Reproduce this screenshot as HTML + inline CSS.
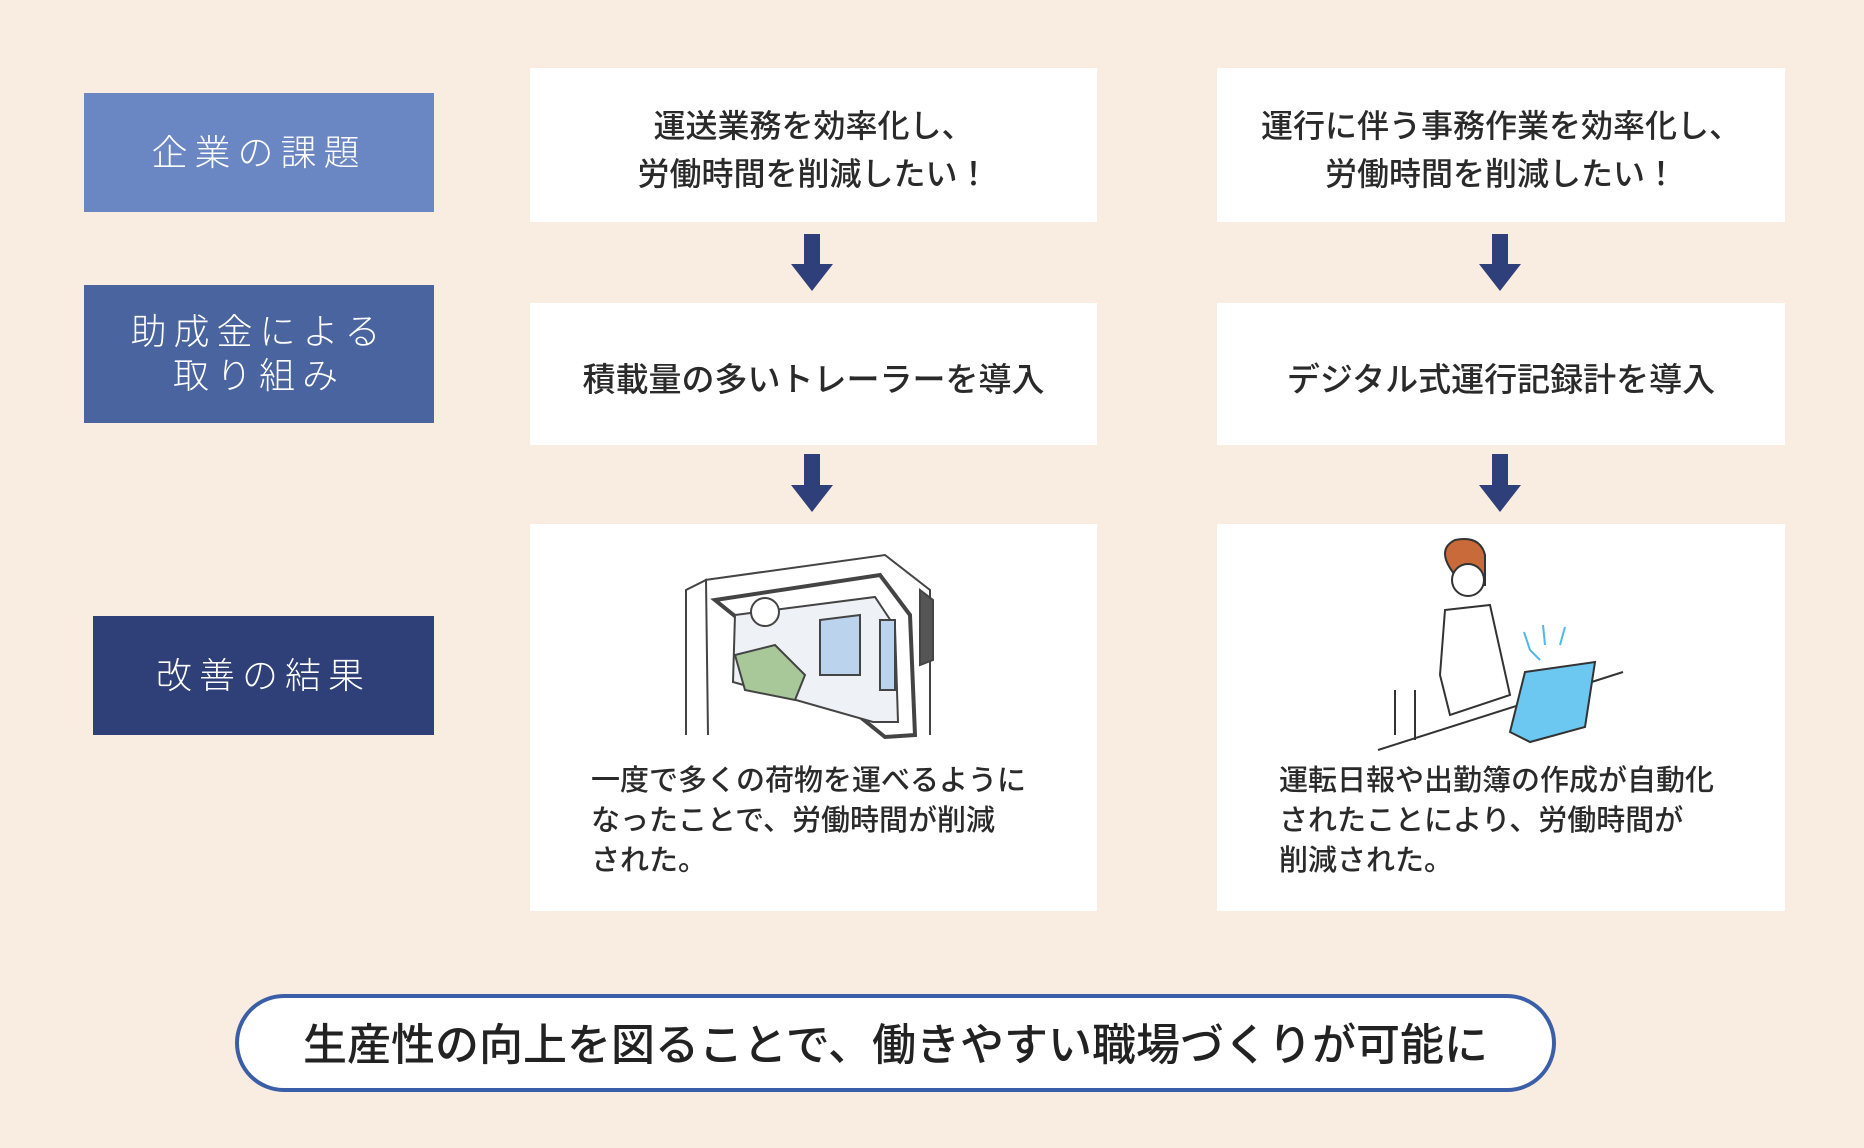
<!DOCTYPE html>
<html><head><meta charset="utf-8"><style>
*{margin:0;padding:0;box-sizing:border-box}
body{width:1864px;height:1148px;background:#f9ece1;position:relative;overflow:hidden;font-family:"Liberation Sans","Noto Sans CJK JP",sans-serif}
.lab{position:absolute;color:#fff;display:flex;align-items:center;justify-content:center;text-align:center;font-size:36px;letter-spacing:7px;line-height:44px;font-weight:300}
.box{position:absolute;background:#fff;display:flex;align-items:center;justify-content:center;text-align:center;font-size:32px;font-weight:500;color:#2a2a2a;line-height:48px}
.arr{position:absolute;width:0;height:0}
.res{position:absolute;font-size:29px;font-weight:500;color:#2a2a2a;line-height:40px;text-align:left}
</style></head><body>
<div class="lab" style="left:84px;top:93px;width:350px;height:119px;background:#6a87c4">企業の課題</div>
<div class="lab" style="left:84px;top:285px;width:350px;height:138px;background:#4a64a0">助成金による<br>取り組み</div>
<div class="lab" style="left:93px;top:616px;width:341px;height:119px;background:#2f3f78">改善の結果</div>

<div class="box" style="left:530px;top:68px;width:567px;height:154px;padding-top:10px">運送業務を効率化し、<br>労働時間を削減したい！</div>
<div class="box" style="left:1217px;top:68px;width:568px;height:154px;padding-top:10px">運行に伴う事務作業を効率化し、<br>労働時間を削減したい！</div>
<div class="box" style="left:530px;top:303px;width:567px;height:142px;padding-top:12px;font-size:33px">積載量の多いトレーラーを導入</div>
<div class="box" style="left:1217px;top:303px;width:568px;height:142px;padding-top:12px;font-size:33px">デジタル式運行記録計を導入</div>
<div class="box" style="left:530px;top:524px;width:567px;height:387px"></div>
<div class="box" style="left:1217px;top:524px;width:568px;height:387px"></div>

<svg style="position:absolute;left:0;top:0" width="1864" height="1148">
<g fill="#2e3f7a">
<path d="M804 234h16v30h13l-21 27l-21-27h13z"/>
<path d="M1492 234h16v30h13l-21 27l-21-27h13z"/>
<path d="M804 454h16v31h13l-21 27l-21-27h13z"/>
<path d="M1492 454h16v31h13l-21 27l-21-27h13z"/>
</g>
<g fill="none" stroke="#444" stroke-width="2">
<path d="M686 735V590l20-10l2 155"/>
<path d="M705 580l180-25l45 35v145"/>
<path d="M715 600l165-25l30 40l5 120l-30 2z" fill="#fff" stroke-width="4"/>
<path d="M735 615l140-18l20 30l3 95l-25 0l-140-40z" fill="#eef2f6"/>
<path d="M820 620l40-5l0 60l-40 0z" fill="#bcd3ee"/>
<path d="M880 620l15 0l0 70l-15 0z" fill="#bcd3ee"/>
<path d="M735 655l40-10l30 30l-10 25l-50-10z" fill="#a9c89a"/>
<circle cx="765" cy="612" r="14" fill="#fff"/>
<path d="M920 590l13 10v60l-13 5z" fill="#555"/>
</g>
<g fill="none" stroke="#333" stroke-width="2">
<path d="M1455 575q-20-25 0-35q25-5 30 15l0 30l-30 0z" fill="#c86a3a"/>
<circle cx="1468" cy="580" r="16" fill="#fff"/>
<path d="M1445 610l45-5l20 90l-60 20l-10-40z" fill="#fff"/>
<path d="M1395 690l0 45M1415 690l0 50"/>
<path d="M1378 750l245-78"/>
<path d="M1525 672l70-10l-10 65l-55 15l-20-10z" fill="#6cc8f0"/>
<path d="M1530 650l-6-18M1545 645l-2-20M1560 645l5-18M1540 660l-10-10" stroke="#4fb8e8"/>
</g>
</svg>

<div class="res" style="left:591px;top:761px">一度で多くの荷物を運べるように<br>なったことで、労働時間が削減<br>された。</div>
<div class="res" style="left:1279px;top:761px">運転日報や出勤簿の作成が自動化<br>されたことにより、労働時間が<br>削減された。</div>

<div style="position:absolute;left:235px;top:994px;width:1321px;height:98px;border:4px solid #3a5ea8;border-radius:49px;background:#fff;display:flex;align-items:center;justify-content:center;font-size:44px;font-weight:500;color:#222;padding-bottom:4px">生産性の向上を図ることで、働きやすい職場づくりが可能に</div>
</body></html>
